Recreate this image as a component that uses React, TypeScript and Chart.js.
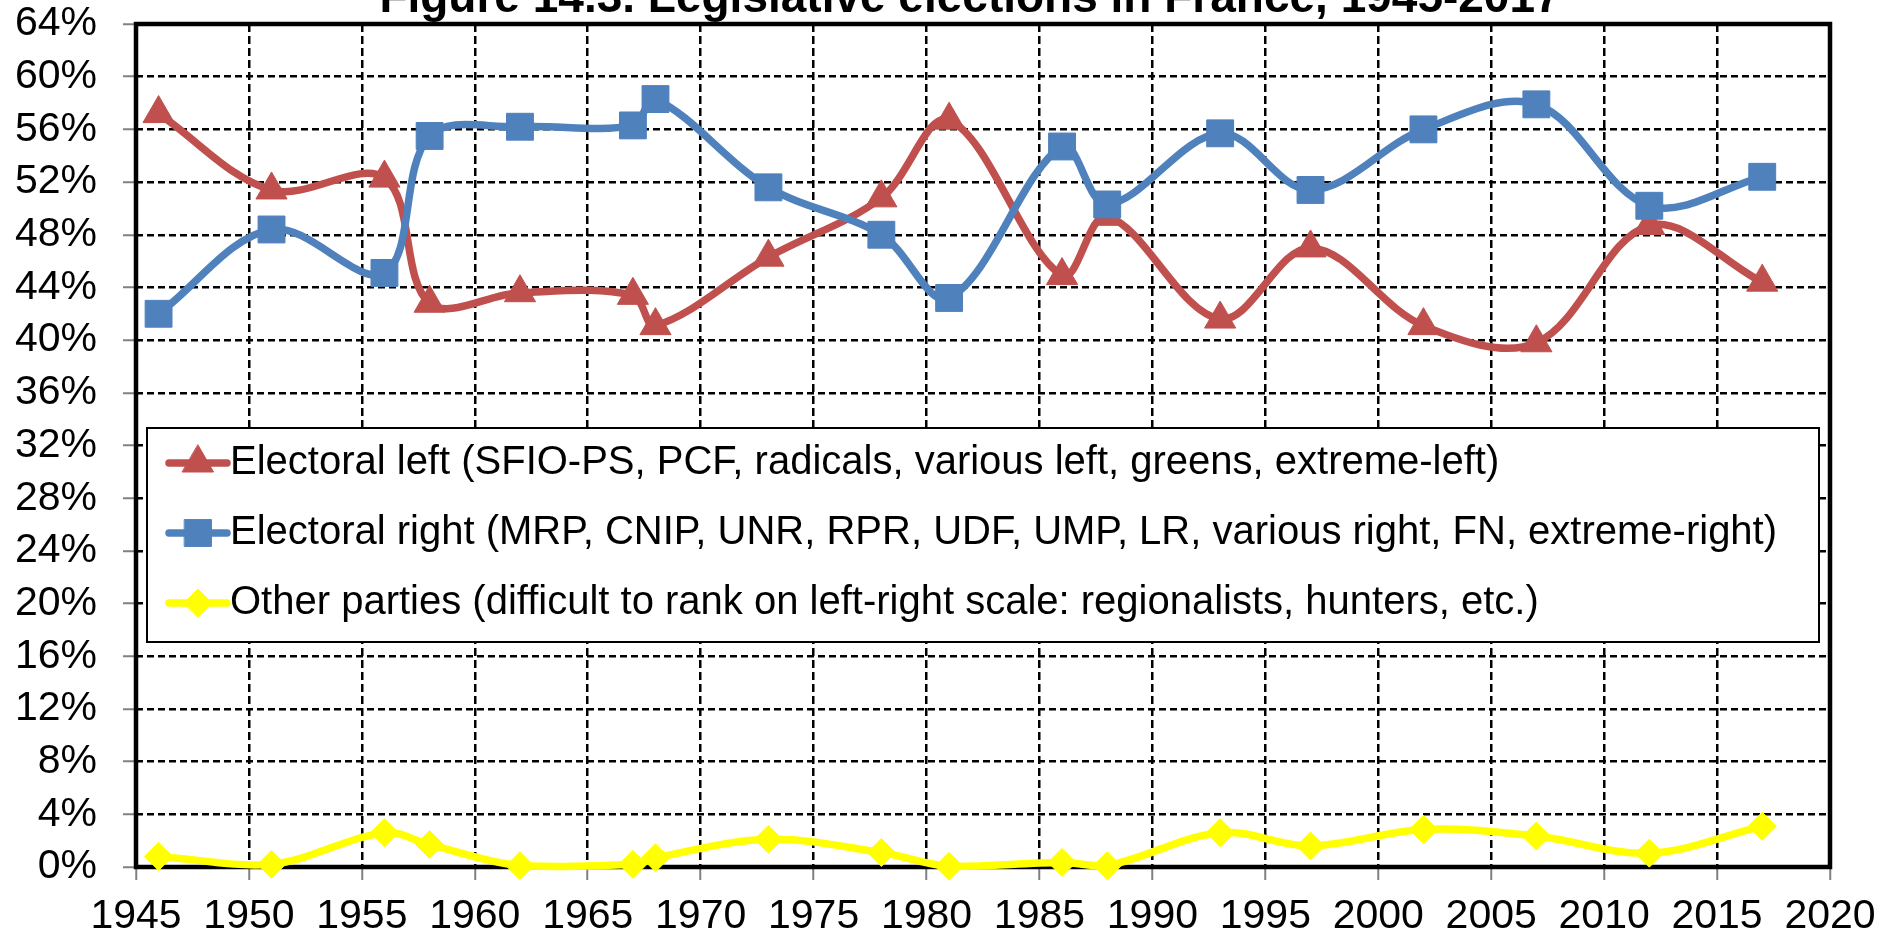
import React, { useEffect, useRef } from "react";
import { Chart, registerables } from "chart.js";

Chart.register(...registerables);

// ---------- data ----------
const years = [1946, 1951, 1956, 1958, 1962, 1967, 1968, 1973, 1978, 1981, 1986, 1988, 1993, 1997, 2002, 2007, 2012, 2017];
const leftShare = [57.2, 51.4, 52.3, 42.8, 43.6, 43.4, 41.1, 46.3, 50.8, 56.7, 44.9, 49.4, 41.6, 47.0, 41.1, 39.8, 48.7, 44.4];
const rightShare = [42.0, 48.4, 45.1, 55.5, 56.2, 56.3, 58.3, 51.6, 48.0, 43.2, 54.7, 50.3, 55.7, 51.4, 56.0, 57.9, 50.2, 52.4];
const otherShare = [0.8, 0.2, 2.6, 1.7, 0.1, 0.2, 0.7, 2.1, 1.1, 0.05, 0.35, 0.1, 2.6, 1.6, 2.85, 2.35, 1.05, 3.1];

const seriesLabels = [
  "Electoral left (SFIO-PS, PCF, radicals, various left, greens, extreme-left)",
  "Electoral right (MRP, CNIP, UNR, RPR, UDF, UMP, LR, various right, FN, extreme-right)",
  "Other parties (difficult to rank on left-right scale: regionalists, hunters, etc.)",
];
const titleText = "Figure 14.3. Legislative elections in France, 1945-2017";

const xMin = 1945;
const xMax = 2020;
const xStep = 5;
const yMin = 0;
const yMax = 64;
const yStep = 4;

// ---------- styles ----------
const FONT = "'Liberation Sans', Arial, sans-serif";
const RED = "#C0504D";
const BLUE = "#4F81BD";
const YELLOW = "#FFFF00";

function drawMarker(ctx: CanvasRenderingContext2D, style: string, r: number, x: number, y: number, color: string) {
  ctx.beginPath();
  if (style === "triangle") {
    ctx.moveTo(x, y - r);
    ctx.lineTo(x + 0.866 * r, y + 0.5 * r);
    ctx.lineTo(x - 0.866 * r, y + 0.5 * r);
    ctx.closePath();
  } else if (style === "rect") {
    const s = r * Math.SQRT1_2;
    ctx.rect(x - s, y - s, 2 * s, 2 * s);
  } else {
    ctx.moveTo(x - r, y);
    ctx.lineTo(x, y - r);
    ctx.lineTo(x + r, y);
    ctx.lineTo(x, y + r);
    ctx.closePath();
  }
  ctx.fillStyle = color;
  ctx.fill();
  ctx.lineWidth = 1;
  ctx.strokeStyle = color;
  ctx.stroke();
}

const framePlugin = {
  id: "frameLegendTitle",
  beforeDatasetsDraw(chart: any) {
    const { ctx, chartArea: a } = chart;
    ctx.save();
    // legend box
    const bx = 147, by = 428, bw = 1819 - 147, bh = 642 - 428;
    ctx.fillStyle = "#ffffff";
    ctx.fillRect(bx, by, bw, bh);
    ctx.lineWidth = 2;
    ctx.strokeStyle = "#000000";
    ctx.strokeRect(bx, by, bw, bh);
    chart.data.datasets.forEach((ds: any, i: number) => {
      const cy = 463 + 70 * i;
      ctx.beginPath();
      ctx.lineCap = "round";
      ctx.lineWidth = 7.5;
      ctx.strokeStyle = ds.borderColor;
      ctx.moveTo(169, cy);
      ctx.lineTo(227, cy);
      ctx.stroke();
      drawMarker(ctx, ds.pointStyle, ds.pointRadius, 198, cy, ds.pointBackgroundColor);
      ctx.fillStyle = "#000000";
      ctx.font = `40px ${FONT}`;
      ctx.textAlign = "left";
      ctx.textBaseline = "middle";
      ctx.fillText(ds.label, 230, cy);
    });
    // plot frame
    ctx.lineWidth = 4.5;
    ctx.strokeStyle = "#000000";
    ctx.lineCap = "butt";
    ctx.strokeRect(a.left, a.top, a.right - a.left, a.bottom - a.top);
    ctx.restore();
  },
  afterDraw(chart: any) {
    const { ctx } = chart;
    ctx.save();
    ctx.font = `bold 46px ${FONT}`;
    ctx.fillStyle = "#000000";
    ctx.textAlign = "center";
    ctx.textBaseline = "alphabetic";
    ctx.fillText(titleText, 970, 12);
    ctx.restore();
  },
};

function makeSeries(label: string, values: number[], color: string, style: string, radius: number, order: number) {
  return {
    label,
    data: years.map((x, i) => ({ x, y: values[i] })),
    borderColor: color,
    backgroundColor: color,
    borderWidth: 7.5,
    borderJoinStyle: "round" as const,
    borderCapStyle: "round" as const,
    pointStyle: style,
    pointRadius: radius,
    pointHoverRadius: radius,
    pointBackgroundColor: color,
    pointBorderColor: color,
    pointBorderWidth: 1,
    tension: 0.35,
    clip: false as const,
    order,
  };
}

export default function App() {
  const ref = useRef<HTMLCanvasElement | null>(null);

  useEffect(() => {
    if (!ref.current) return;
    const chart = new Chart(ref.current, {
      type: "line",
      data: {
        datasets: [
          makeSeries(seriesLabels[0], leftShare, RED, "triangle", 18, 3),
          makeSeries(seriesLabels[1], rightShare, BLUE, "rect", 19, 2),
          makeSeries(seriesLabels[2], otherShare, YELLOW, "rectRot", 14, 1),
        ] as any,
      },
      options: {
        animation: false,
        responsive: true,
        maintainAspectRatio: false,
        layout: { padding: { top: 24, right: 66, bottom: 0, left: 0 } },
        plugins: {
          legend: { display: false },
          title: { display: false },
          tooltip: { enabled: false },
        },
        scales: {
          x: {
            type: "linear",
            min: xMin,
            max: xMax,
            ticks: {
              stepSize: xStep,
              color: "#000000",
              font: { family: FONT, size: 41 },
              padding: 12,
              maxRotation: 0,
              autoSkip: false,
              callback: (v: any) => String(v),
            },
            grid: {
              color: "#000000",
              lineWidth: 2.5,
              drawTicks: true,
              tickLength: 13,
              tickColor: "#808080",
              tickWidth: 2,
            },
            border: { display: false, dash: [8, 4] },
            afterFit: (scale: any) => {
              scale.height = 70;
              scale.paddingLeft = 0;
              scale.paddingRight = 0;
            },
          },
          y: {
            type: "linear",
            min: yMin,
            max: yMax,
            ticks: {
              stepSize: yStep,
              color: "#000000",
              font: { family: FONT, size: 41 },
              padding: 26,
              autoSkip: false,
              callback: (v: any) => `${v}%`,
            },
            grid: {
              color: "#000000",
              lineWidth: 2.5,
              drawTicks: true,
              tickLength: 13,
              tickColor: "#808080",
              tickWidth: 2,
            },
            border: { display: false, dash: [7, 4] },
            afterFit: (scale: any) => {
              scale.width = 136;
              scale.paddingTop = 0;
              scale.paddingBottom = 0;
            },
          },
        },
      } as any,
      plugins: [framePlugin],
    });
    return () => chart.destroy();
  }, []);

  return (
    <div style={{ position: "absolute", left: 0, top: 0, width: 1896, height: 937, background: "#ffffff" }}>
      <canvas ref={ref} />
    </div>
  );
}
